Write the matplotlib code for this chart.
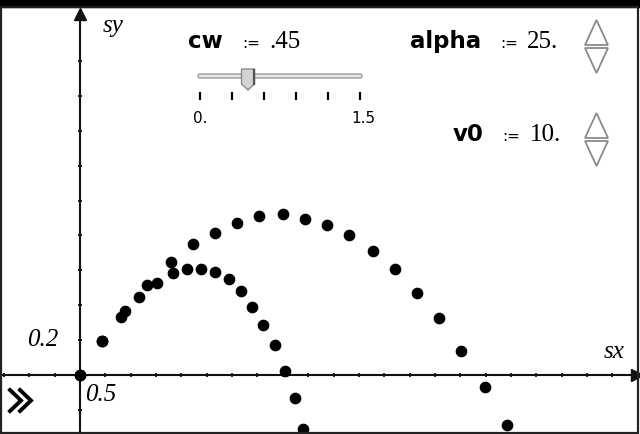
import matplotlib
matplotlib.use("Agg")
import matplotlib.pyplot as plt
import numpy as np
from matplotlib.patches import Polygon, Rectangle, FancyBboxPatch

# trajectory without air drag (sx, sy)
sx_free = [0.0, 0.43, 0.89, 1.32, 1.80, 2.22, 2.66, 3.09, 3.53, 4.00,
           4.43, 4.87, 5.30, 5.77, 6.21, 6.64, 7.08, 7.51, 7.98, 8.42]
sy_free = [0.0, 0.197, 0.369, 0.518, 0.646, 0.749, 0.816, 0.873, 0.912, 0.921,
           0.896, 0.862, 0.804, 0.712, 0.609, 0.471, 0.327, 0.139, -0.067, -0.285]

# trajectory with drag coefficient cw
sx_drag = [0.0, 0.43, 0.80, 1.16, 1.51, 1.83, 2.11, 2.38, 2.66, 2.93,
           3.17, 3.40, 3.60, 3.84, 4.04, 4.24, 4.39]
sy_drag = [0.0, 0.197, 0.334, 0.447, 0.529, 0.585, 0.608, 0.608, 0.588, 0.550,
           0.482, 0.392, 0.288, 0.174, 0.025, -0.134, -0.308]

# sliders / parameters
cw = 0.45
cw_min, cw_max = 0.0, 1.5
alpha = 25
v0 = 10

W, H = 640, 434

fig = plt.figure(figsize=(6.4, 4.34), dpi=100)
fig.patch.set_facecolor("white")

ax = fig.add_axes([0, 0, 1, 1])
ax.set_xlim(-80 / 50.7, 560 / 50.7)
ax.set_ylim(-59 / 174.4, 375 / 174.4)
ax.set_facecolor("white")

for s in ["top", "right"]:
    ax.spines[s].set_visible(False)
ax.spines["left"].set_position(("data", 0))
ax.spines["bottom"].set_position(("data", 0))
ax.spines["left"].set_bounds(-0.34, 2.07)
ax.spines["bottom"].set_bounds(-1.6, 10.95)
for s in ["left", "bottom"]:
    ax.spines[s].set_linewidth(1.5)
    ax.spines[s].set_color("#111111")
ax.set_xticks(np.arange(-1.5, 10.51, 0.5))
ax.set_yticks(np.arange(-0.2, 1.81, 0.2))
ax.tick_params(direction="inout", length=3, width=1.3, colors="#111111",
               labelbottom=False, labelleft=False)

# arrow heads
ax.plot([0], [2.07], marker="^", markersize=9, color="#111111", clip_on=False)
ax.plot([10.98], [0], marker=">", markersize=9, color="#111111", clip_on=False)

ax.plot(sx_free, sy_free, "o", color="black", markersize=7.4, zorder=5,
        clip_on=True)
ax.plot(sx_drag, sy_drag, "o", color="black", markersize=7.4, zorder=5,
        clip_on=True)

serif_it = dict(family="Liberation Serif", style="italic", fontsize=18)
ax.text(0.45, 2.0, "sy", ha="left", va="center", **serif_it)
ax.text(10.75, 0.13, "sx", ha="right", va="center", **serif_it)
ax.text(-0.42, 0.2, "0.2", ha="right", va="center", **serif_it)
ax.text(0.1, -0.115, "0.5", ha="left", va="center", **serif_it)

# widgets drawn in pixel coordinates
ui = fig.add_axes([0, 0, 1, 1], zorder=10)
ui.set_xlim(0, W)
ui.set_ylim(H, 0)
ui.axis("off")
ui.patch.set_alpha(0)

ui.add_patch(Rectangle((0, 0), W, 7, color="black"))
ui.add_patch(Rectangle((1, 7), 636.5, 425.5, fill=False, edgecolor="#222222",
                       linewidth=1.6))

bold = dict(family="DejaVu Sans", fontweight="bold", fontsize=16.5)
assign = dict(family="DejaVu Sans", fontsize=11)
num = dict(family="Liberation Serif", fontsize=18)

ui.text(188, 48, "cw", va="baseline", **bold)
ui.text(242, 48, ":=", va="baseline", **assign)
ui.text(269, 48, f"{cw:.2f}".lstrip("0"), va="baseline", **num)

ui.text(410, 48, "alpha", va="baseline", **bold)
ui.text(500, 48, ":=", va="baseline", **assign)
ui.text(527, 48, f"{alpha}.", va="baseline", **num)

ui.text(453, 141, "v0", va="baseline", **bold)
ui.text(502, 141, ":=", va="baseline", **assign)
ui.text(530, 141, f"{v0}.", va="baseline", **num)

# slider
x0, x1 = 200, 360
ui.add_patch(FancyBboxPatch((x0 - 2, 74), x1 - x0 + 4, 4,
                            boxstyle="round,pad=0,rounding_size=2",
                            facecolor="#e6e6e6", edgecolor="#9a9a9a",
                            linewidth=1.0))
for tx in np.linspace(x0, x1, 6):
    ui.plot([tx, tx], [93, 99], color="black", linewidth=1.6)
ui.text(x0 - 7, 123, "0.", family="DejaVu Sans", fontsize=11, va="baseline")
ui.text(x1 + 15, 123, "1.5", family="DejaVu Sans", fontsize=11,
        va="baseline", ha="right")
tx = x0 + (cw - cw_min) / (cw_max - cw_min) * (x1 - x0)
ui.add_patch(Polygon([(tx - 6.5, 69), (tx + 6.5, 69), (tx + 6.5, 84),
                      (tx, 90), (tx - 6.5, 84)], closed=True,
                     facecolor="#d4d4d4", edgecolor="#8a8a8a", linewidth=1.0))
ui.plot([tx + 5.5, tx + 5.5], [70, 84], color="#555555", linewidth=1.6)

# spinners
for top in (20, 113):
    ui.add_patch(Polygon([(596.5, top), (585, top + 25), (608, top + 25)],
                         closed=True, fill=False, edgecolor="#8a8a8a",
                         linewidth=1.3))
    ui.add_patch(Polygon([(585, top + 28), (608, top + 28), (596.5, top + 53)],
                         closed=True, fill=False, edgecolor="#8a8a8a",
                         linewidth=1.3))

# collapse chevrons
for cx in (10, 20):
    ui.plot([cx, cx + 11, cx], [390, 400.5, 411], color="black",
            linewidth=2.8, solid_joinstyle="miter")

fig.savefig("out.png", dpi=100)
